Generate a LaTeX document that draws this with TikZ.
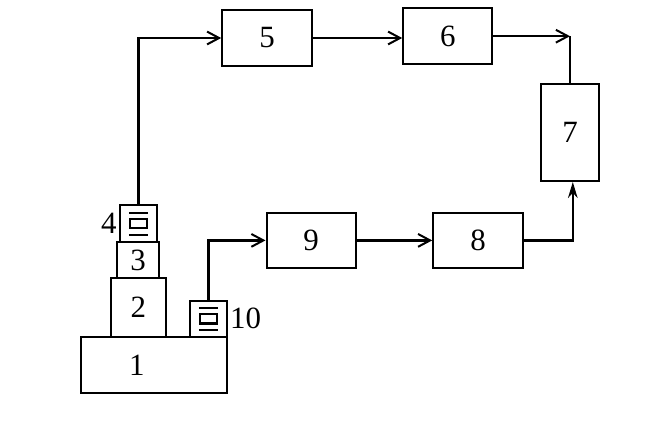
\documentclass[tikz,border=0pt]{standalone}
\usepackage{fontspec}
\setmainfont{Liberation Serif}
\usetikzlibrary{arrows.meta}

\begin{document}
\begin{tikzpicture}[
  blk/.style={draw,line width=0.55mm,inner sep=0,font=\fontsize{22}{26}\selectfont},
  conn/.style={line width=0.55mm},
  >={Straight Barb[length=3mm,width=3.2mm,line width=0.5mm]}
]
\useasboundingbox (0,0) rectangle (165.75mm,107mm);
% stand and sensors
\node[blk,minimum width=36.5mm,minimum height=14.15mm,label={[font=\fontsize{22}{26}\selectfont,xshift=-4.2mm]center:1}] (1) at (38.4mm,15.75mm) {};
\node[blk,minimum width=13.75mm,minimum height=14.75mm] (2) at (34.6mm,30.2mm) {2};
\node[blk,minimum width=10.65mm,minimum height=8.85mm] (3) at (34.5mm,42mm) {3};
\node[blk,minimum width=9.2mm,minimum height=9.3mm,label={[font=\fontsize{22}{26}\selectfont,inner sep=0.5mm]left:4}] (4) at (34.6mm,51.1mm) {};
\node[blk,minimum width=9.2mm,minimum height=8.9mm,label={[font=\fontsize{22}{26}\selectfont,inner sep=0.5mm]right:10}] (10) at (52.1mm,27.3mm) {};
\foreach \s in {4,10} {
  \draw[line width=0.55mm] ([shift={(-2.4mm,2.75mm)}]\s.center) -- ++(4.8mm,0)
    ([shift={(-2.4mm,-2.75mm)}]\s.center) -- ++(4.8mm,0)
    ([shift={(-2.1mm,-1.15mm)}]\s.center) rectangle ++(4.2mm,2.3mm);
}
% signal chain
\node[blk,minimum width=22.35mm,minimum height=14mm] (5) at (66.75mm,97.5mm) {5};
\node[blk,minimum width=22.25mm,minimum height=13.9mm] (6) at (111.95mm,97.95mm) {6};
\node[blk,minimum width=14.5mm,minimum height=24.25mm] (7) at (142.5mm,73.9mm) {7};
\node[blk,minimum width=22.3mm,minimum height=13.9mm] (9) at (77.8mm,46.9mm) {9};
\node[blk,minimum width=22.35mm,minimum height=13.9mm] (8) at (119.5mm,46.9mm) {8};
\coordinate (c67) at (7.north |- 6.east);
\draw[conn,->] (4.north) |- (5.west);
\draw[conn,->] (5.east) -- (5.east -| 6.west);
\draw[conn,->] (6.east) -- (c67);
\draw[conn] (c67) -- (7.north);
\draw[conn,->] (10.north) |- (9.west);
\draw[conn,->] (9) -- (8);
\draw[conn,-{Stealth[length=4mm,width=2.4mm]}] (8.east) -| ([xshift=0.7mm]7.south);
\end{tikzpicture}
\end{document}
